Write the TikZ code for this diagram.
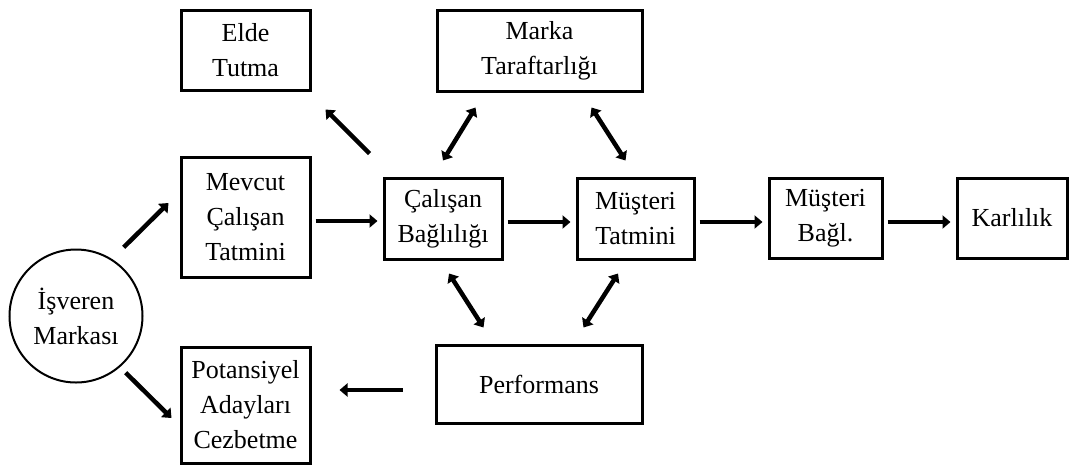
\documentclass[tikz,border=0pt]{standalone}
\usepackage{fontspec}
\setmainfont{Liberation Serif}
\usetikzlibrary{arrows.meta}

\begin{document}
\begin{tikzpicture}[
                x=1pt, y=-1pt,
                every node/.style={font=\fontsize{26}{35}\selectfont, align=center},
                box/.style={rectangle, draw, line width=3pt, inner sep=2pt},
                brand/.style={circle, draw, line width=2pt, inner sep=0pt, minimum size=133pt},
                conn/.style={-{Triangle[length=8pt,width=13pt]}, line width=4.5pt},
                both/.style={{Triangle[length=8pt,width=13pt]}-{Triangle[length=8pt,width=13pt]}, line width=4.5pt}
                ]
                \useasboundingbox (0,0) rectangle (1070,467);
                % Employer brand
                \node[brand] (isveren) at (76,316) {İşveren\\Markası};
                % Left column
                \node[box, minimum width=129pt, minimum height=80pt] (elde) at (245.5,50) {Elde\\Tutma};
                \node[box, minimum width=129pt, minimum height=120pt] (mevcut) at (245.5,217) {Mevcut\\Çalışan\\Tatmini};
                \node[box, minimum width=129pt, minimum height=116pt] (potans) at (245.5,405) {Potansiyel\\Adayları\\Cezbetme};
                % Middle row
                \node[box, minimum width=118pt, minimum height=81pt] (calisan) at (443,218.5) {Çalışan\\Bağlılığı};
                \node[box, minimum width=117pt, minimum height=81pt] (mtatmin) at (635.5,218.5) {Müşteri\\Tatmini};
                \node[box, minimum width=113pt, minimum height=80pt] (mbagl) at (825.5,218) {Müşteri\\Bağl.};
                \node[box, minimum width=110pt, minimum height=80pt] (karlilik) at (1012,218) {Karlılık};
                % Top and bottom
                \node[box, minimum width=205pt, minimum height=81pt] (marka) at (539.5,50.5) {Marka\\Taraftarlığı};
                \node[box, minimum width=206pt, minimum height=78pt] (perf) at (539,384) {Performans};
                % Arrows
                \draw[conn] ([shift={(0,-21)}]isveren.north east) -- ([shift={(-11,-14)}]mevcut.west);
                \draw[conn] ([shift={(2,9)}]isveren.south east) -- ([shift={(-8,13)}]potans.west);
                \draw[conn] ([shift={(4,4)}]mevcut.east) -- ([shift={(-5,2.5)}]calisan.west);
                \draw[conn] ([shift={(-13,-23)}]calisan.north west) -- ([shift={(14,18)}]elde.south east);
                \draw[conn] ([shift={(4,3.5)}]calisan.east) -- ([shift={(-5,3.5)}]mtatmin.west);
                \draw[conn] ([shift={(4,3.5)}]mtatmin.east) -- ([shift={(-5,4)}]mbagl.west);
                \draw[conn] ([shift={(4,4)}]mbagl.east) -- ([shift={(-5,4)}]karlilik.west);
                \draw[conn] ([shift={(-32,6)}]perf.west) -- ([shift={(28,-15)}]potans.east);
                \draw[both] ([shift={(0,-16)}]calisan.north) -- ([shift={(40,15)}]marka.south west);
                \draw[both] ([shift={(-10,-16)}]mtatmin.north) -- ([shift={(-52,15)}]marka.south east);
                \draw[both] ([shift={(6,13)}]calisan.south) -- ([shift={(49,-16)}]perf.north west);
                \draw[both] ([shift={(-17.5,13)}]mtatmin.south) -- ([shift={(-60,-16)}]perf.north east);
              \end{tikzpicture}
\end{document}
